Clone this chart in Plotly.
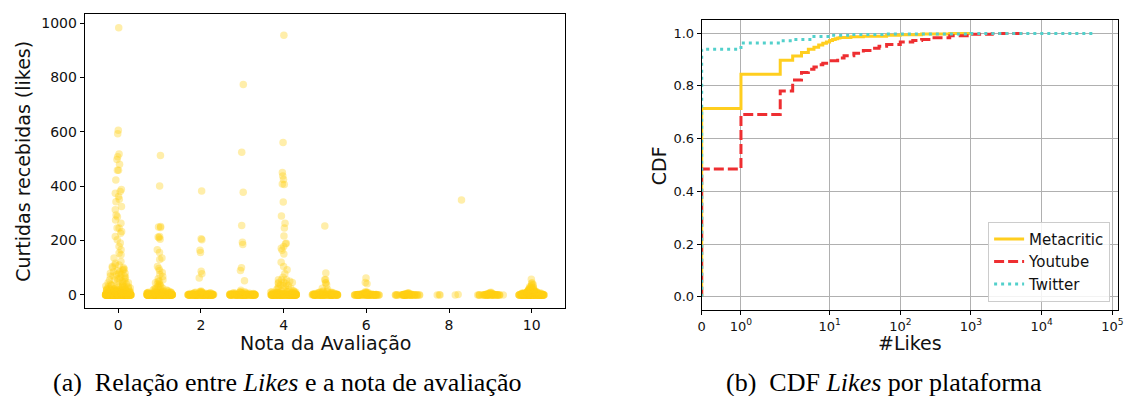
import numpy as np
import plotly.graph_objects as go

W, H = 1129, 396

# ---------------- Left panel data: likes per review score ----------------
notas = [0, 1, 2, 3, 4, 5, 6, 7, 8, 9, 10]

# (value, count) pairs
nota0_vals = [0, 1, 2, 3, 4, 5, 6, 7, 8, 9, 10, 12, 14, 16, 18, 20, 23, 26, 30, 33, 36, 40, 45, 50, 55, 60, 65, 70, 75, 80, 85, 90, 95, 100, 105, 110, 117, 123,
              136, 148, 154, 166, 178, 191, 203, 215, 227, 233, 246, 264, 276, 288, 294, 313, 325, 343, 352, 362, 374, 380, 388, 423, 459, 481, 498, 508, 518, 593, 606, 983]
nota0_counts = [120, 40, 25, 18, 14, 12, 10, 8, 8, 7, 7, 6, 6, 5, 5, 5, 4, 4, 4, 3, 3, 3, 3, 3, 2, 3, 2, 3, 2, 3, 2, 2, 2, 2, 1, 2, 1, 1,
                1, 1, 1, 1, 1, 1, 1, 1, 1, 1, 2, 1, 1, 1, 1, 1, 1, 1, 1, 1, 1, 1, 1, 1, 2, 1, 1, 1, 1, 1, 1, 1]

nota1_vals = [0, 1, 2, 3, 4, 5, 6, 7, 8, 10, 12, 15, 18, 22, 25, 30, 35, 40, 45, 50, 56, 60, 68, 75, 83, 90, 97, 105,
              130, 136, 156, 166, 205, 210, 213, 215, 248, 250, 252, 401, 513]
nota1_counts = [90, 30, 18, 12, 10, 8, 6, 5, 5, 5, 4, 3, 3, 2, 2, 2, 2, 2, 1, 2, 1, 1, 1, 1, 1, 1, 1, 1,
                1, 1, 1, 1, 1, 1, 1, 1, 1, 1, 1, 1, 1]

nota2_vals = [0, 1, 2, 3, 4, 5, 6, 8, 10, 12, 15, 62, 78, 87, 156, 164, 203, 207, 382]
nota2_counts = [70, 20, 12, 8, 6, 5, 4, 3, 3, 2, 1, 1, 1, 1, 1, 1, 1, 1, 1]

nota3_vals = [0, 1, 2, 3, 4, 5, 6, 8, 10, 12, 17, 52, 90, 100, 186, 194, 255, 378, 525, 774]
nota3_counts = [60, 18, 10, 7, 5, 4, 3, 3, 2, 2, 1, 1, 1, 1, 1, 1, 1, 1, 1, 1]

nota4_vals = [0, 1, 2, 3, 4, 5, 6, 8, 10, 12, 15, 20, 25, 30, 35, 38, 42, 46, 50, 56, 65, 78, 93, 105, 120,
              151, 164, 172, 178, 188, 190, 217, 246, 264, 290, 342, 406, 408, 425, 437, 450, 561, 955]
nota4_counts = [80, 25, 15, 10, 8, 6, 5, 5, 4, 3, 3, 3, 2, 2, 2, 1, 2, 3, 1, 3, 1, 1, 1, 1, 1,
                1, 1, 1, 1, 1, 1, 1, 1, 1, 1, 1, 1, 1, 1, 1, 1, 1, 1]

nota5_vals = [0, 1, 2, 3, 4, 5, 6, 8, 10, 12, 15, 20, 25, 38, 44, 45, 56, 57, 81, 254]
nota5_counts = [60, 18, 10, 7, 5, 4, 3, 3, 3, 2, 2, 1, 1, 1, 1, 1, 1, 1, 1, 1]

nota6_vals = [0, 1, 2, 3, 4, 5, 6, 8, 10, 12, 41, 46, 62]
nota6_counts = [45, 14, 8, 5, 4, 3, 2, 2, 2, 1, 1, 1, 1]

nota7_vals = [0, 1, 2, 3, 4, 5, 6, 8]
nota7_counts = [35, 10, 6, 4, 3, 2, 1, 1]

nota8_vals = [0, 1, 2, 349]
nota8_counts = [3, 1, 1, 1]

nota9_vals = [0, 1, 2, 3, 4, 5, 6, 8, 10]
nota9_counts = [30, 10, 6, 4, 3, 2, 2, 1, 1]

nota10_vals = [0, 1, 2, 3, 4, 5, 6, 7, 8, 9, 10, 12, 14, 16, 18, 20, 22, 25, 28, 30, 33, 38, 42, 45, 58]
nota10_counts = [90, 30, 20, 15, 12, 10, 8, 7, 6, 5, 5, 5, 4, 3, 3, 3, 2, 2, 2, 1, 1, 2, 1, 1, 1]

left_yticks = [0, 200, 400, 600, 800, 1000]
left_xticks = [0, 2, 4, 6, 8, 10]

# ---------------- Right panel data: CDF of likes per platform ----------------
meta_x = [0, 1, 2, 3, 4, 5, 6, 7, 8, 9, 10, 11, 12, 13, 14, 20, 30, 64, 100, 200, 500, 980]
meta_cdf = [0.714, 0.844, 0.897, 0.913, 0.927, 0.939, 0.947, 0.955, 0.962, 0.967, 0.972, 0.976, 0.979, 0.982, 0.984,
            0.986, 0.988, 0.992, 0.994, 0.997, 0.999, 1.0]

yt_x = [0, 1, 2, 3, 4, 5, 6, 7, 8, 10, 13, 16, 22, 30, 40, 50, 64, 100, 150, 200, 300, 500, 1000, 2000, 5500]
yt_cdf = [0.485, 0.692, 0.781, 0.822, 0.851, 0.863, 0.872, 0.880, 0.886, 0.895, 0.906, 0.914, 0.924, 0.934, 0.943,
          0.950, 0.957, 0.967, 0.972, 0.976, 0.983, 0.990, 0.996, 0.999, 1.0]

tw_x = [0, 1, 2, 3, 6, 10, 20, 64, 1000, 55000]
tw_cdf = [0.939, 0.963, 0.971, 0.976, 0.987, 0.992, 0.995, 0.997, 0.999, 1.0]

right_xtick_vals = [0, 1, 10, 100, 1000, 10000, 100000]
right_xtick_text = ["0", "10<sup>0</sup>", "10<sup>1</sup>", "10<sup>2</sup>", "10<sup>3</sup>", "10<sup>4</sup>", "10<sup>5</sup>"]
right_yticks = [0.0, 0.2, 0.4, 0.6, 0.8, 1.0]


# symmetric-log scale (linthresh=2, linscale=1, base 10), like matplotlib's symlog axis
def symlog(v, linthresh=2.0, base=10.0, linscale=1.0):
    a = np.asarray(v, dtype=float)
    adj = linscale / (1.0 - 1.0 / base)
    absa = np.abs(a)
    with np.errstate(divide="ignore"):
        out = np.sign(a) * linthresh * (adj + np.log(np.maximum(absa, 1e-300) / linthresh) / np.log(base))
    inside = absa <= linthresh
    out[inside] = a[inside] * adj
    return out


def px(x):
    return x / W


def py(y):
    return 1 - y / H


FONT = "DejaVu Sans"
SERIF = "Liberation Serif"
INK = "#111111"

fig = go.Figure()

# strip plot (library jitter)
all_x, all_y = [], []
for n, vals, cnts in [
    (0, nota0_vals, nota0_counts), (1, nota1_vals, nota1_counts), (2, nota2_vals, nota2_counts),
    (3, nota3_vals, nota3_counts), (4, nota4_vals, nota4_counts), (5, nota5_vals, nota5_counts),
    (6, nota6_vals, nota6_counts), (7, nota7_vals, nota7_counts), (8, nota8_vals, nota8_counts),
    (9, nota9_vals, nota9_counts), (10, nota10_vals, nota10_counts)]:
    ys = np.repeat(vals, cnts)
    all_y.extend(ys.tolist())
    all_x.extend([n] * len(ys))

fig.add_trace(go.Box(
    x=all_x, y=all_y, boxpoints="all", jitter=0.78, pointpos=0, width=0.8,
    fillcolor="rgba(0,0,0,0)", line=dict(width=0, color="rgba(0,0,0,0)"),
    whiskerwidth=0,
    marker=dict(size=7.5, color="rgba(255,208,20,0.36)", line=dict(width=0)),
    showlegend=False, xaxis="x", yaxis="y", hoverinfo="y",
))

# CDF lines
for name, xs, cs, color, dash in [
    ("Metacritic", meta_x, meta_cdf, "#FFCE1F", "solid"),
    ("Youtube", yt_x, yt_cdf, "#EE2E31", "10px,4px"),
    ("Twitter", tw_x, tw_cdf, "#52D0CB", "3px,4px"),
]:
    xx = np.concatenate([[0.0], symlog(xs)])
    yy = [0.0] + list(cs)
    fig.add_trace(go.Scatter(
        x=xx, y=yy, mode="lines", name=name, line=dict(color=color, width=3, dash=dash, shape="hv"),
        xaxis="x2", yaxis="y2",
    ))

axis_common = dict(
    showline=True, mirror=True, linecolor="#000000", linewidth=1,
    ticks="outside", ticklen=4, tickwidth=1, tickcolor="#000000",
    zeroline=False,
)

fig.update_layout(
    width=W, height=H,
    margin=dict(l=0, r=0, t=0, b=0),
    paper_bgcolor="white", plot_bgcolor="white",
    font=dict(family=FONT, color=INK),
    xaxis=dict(domain=[px(81.4), px(565.7)], range=[-0.81, 10.81], tickvals=left_xticks,
               showgrid=False, tickfont=dict(size=14, family=FONT, color=INK), anchor="y", **axis_common),
    yaxis=dict(domain=[py(308.3), py(14.3)], range=[-49, 1032], tickvals=left_yticks,
               showgrid=False, tickfont=dict(size=14, family=FONT, color=INK), anchor="x", **axis_common),
    xaxis2=dict(domain=[px(703.3), px(1123.3)], range=[0, 11.79],
                tickvals=symlog(right_xtick_vals).tolist(), ticktext=right_xtick_text,
                showgrid=True, gridcolor="#b0b0b0", gridwidth=1,
                tickfont=dict(size=13, family=FONT, color=INK), anchor="y2", **axis_common),
    yaxis2=dict(domain=[py(310), py(20)], range=[-0.05, 1.05], tickvals=right_yticks, tickformat=".1f",
                showgrid=True, gridcolor="#b0b0b0", gridwidth=1,
                tickfont=dict(size=13, family=FONT, color=INK), anchor="x2", **axis_common),
    legend=dict(x=px(1115), y=py(301.7), xanchor="right", yanchor="bottom",
                bgcolor="rgba(255,255,255,0.85)", bordercolor="#cccccc", borderwidth=1,
                font=dict(size=15, family=FONT, color=INK), tracegroupgap=0),
    showlegend=True,
)

annotations = [
    dict(text="Nota da Avaliação", x=px(324), y=py(343), font=dict(size=19)),
    dict(text="Curtidas recebidas (likes)", x=px(19), y=py(161), textangle=-90, font=dict(size=19)),
    dict(text="CDF", x=px(660.5), y=py(166), textangle=-90, font=dict(size=19)),
    dict(text="#Likes", x=px(913), y=py(343), font=dict(size=19)),
    dict(text="(a)&nbsp;&nbsp;Relação entre <i>Likes</i> e a nota de avaliação", x=px(285), y=py(382),
         font=dict(size=26, family=SERIF, color="#000000")),
    dict(text="(b)&nbsp;&nbsp;CDF <i>Likes</i> por plataforma", x=px(887), y=py(382),
         font=dict(size=26, family=SERIF, color="#000000")),
]
for a in annotations:
    a.setdefault("font", {})
    a["font"].setdefault("family", FONT)
    a["font"].setdefault("color", INK)
    fig.add_annotation(xref="paper", yref="paper", showarrow=False, xanchor="center", yanchor="middle", **a)

fig.write_html("out.html", config={"displayModeBar": False},
               post_script="document.body.style.margin='0';document.body.style.padding='0';document.body.style.overflow='hidden';")
